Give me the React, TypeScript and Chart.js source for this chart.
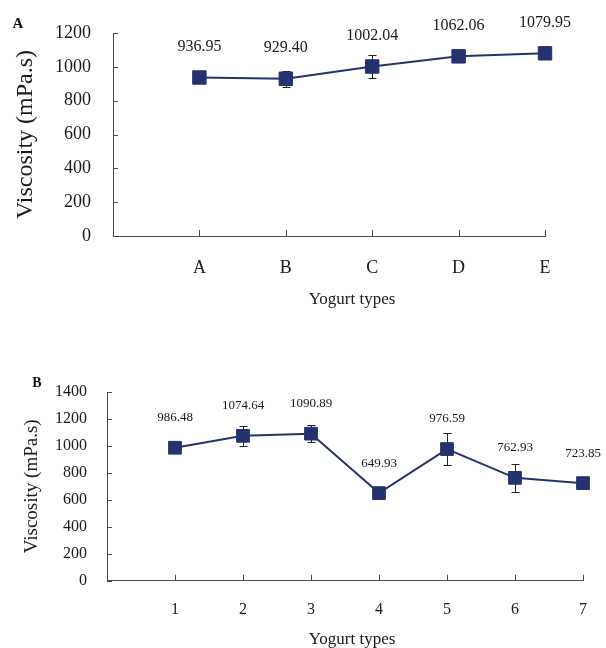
import React, { useEffect, useRef } from 'react';
import { Chart, registerables } from 'chart.js';

Chart.register(...registerables);

// ---- Data: panel A ----
const A_CATEGORIES = ['A', 'B', 'C', 'D', 'E'];
const A_VALUES = [936.95, 929.4, 1002.04, 1062.06, 1079.95];
const A_ERRORS = [12, 47, 68, 20, 20];
const A_Y_MAX = 1200;
const A_Y_STEP = 200;

// ---- Data: panel B ----
const B_CATEGORIES = ['1', '2', '3', '4', '5', '6', '7'];
const B_VALUES = [986.48, 1074.64, 1090.89, 649.93, 976.59, 762.93, 723.85];
const B_ERRORS = [20, 74, 62, 47, 119, 104, 20];
const B_Y_MAX = 1400;
const B_Y_STEP = 200;

const X_TITLE = 'Yogurt types';
const Y_TITLE = 'Viscosity (mPa.s)';

const FONT = "'Liberation Serif', 'Times New Roman', serif";
const NAVY = '#24326f';
const AXIS = '#4a4a4a';
const TEXT = '#1a1a1a';

const decorPlugin = {
  id: 'decor',
  beforeDatasetsDraw(chart: any, _args: any, opts: any) {
    const { ctx } = chart;
    const xs = chart.scales.x;
    const ys = chart.scales.y;
    ctx.save();
    ctx.strokeStyle = '#222';
    ctx.lineWidth = 1;
    opts.values.forEach((v: number, i: number) => {
      const e = opts.errors[i];
      const x = Math.round(xs.getPixelForValue(i + 1)) + 0.5;
      const yt = Math.round(ys.getPixelForValue(v + e)) + 0.5;
      const yb = Math.round(ys.getPixelForValue(v - e)) + 0.5;
      ctx.beginPath();
      ctx.moveTo(x, yt);
      ctx.lineTo(x, yb);
      ctx.moveTo(x - 4, yt);
      ctx.lineTo(x + 4, yt);
      ctx.moveTo(x - 4, yb);
      ctx.lineTo(x + 4, yb);
      ctx.stroke();
    });
    ctx.restore();
  },
  afterDraw(chart: any, _args: any, opts: any) {
    const { ctx, chartArea } = chart;
    const xs = chart.scales.x;
    const ys = chart.scales.y;
    ctx.save();
    // inner tick marks
    ctx.strokeStyle = AXIS;
    ctx.lineWidth = 1;
    ctx.beginPath();
    ys.ticks.forEach((t: any) => {
      const y = Math.round(ys.getPixelForValue(t.value)) + 0.5;
      ctx.moveTo(chartArea.left, y);
      ctx.lineTo(chartArea.left + opts.tickLen, y);
    });
    xs.ticks.forEach((t: any) => {
      if (t.value < 1) return;
      const x = Math.round(xs.getPixelForValue(t.value)) + 0.5;
      ctx.moveTo(x, chartArea.bottom);
      ctx.lineTo(x, chartArea.bottom - opts.tickLen - 1);
    });
    ctx.stroke();
    // value labels
    ctx.fillStyle = TEXT;
    ctx.textAlign = 'center';
    ctx.textBaseline = 'middle';
    ctx.font = `${opts.labelSize}px ${FONT}`;
    opts.values.forEach((v: number, i: number) => {
      const x = xs.getPixelForValue(i + 1);
      const y = ys.getPixelForValue(v) - opts.labelOffset;
      ctx.fillText(v.toFixed(2), x, y);
    });
    // x title
    ctx.font = `${opts.xTitleSize}px ${FONT}`;
    ctx.fillText(X_TITLE, opts.xTitleX, opts.xTitleY);
    // panel letter
    ctx.font = `bold ${opts.letterSize}px ${FONT}`;
    ctx.fillStyle = '#111';
    ctx.fillText(opts.letter, opts.letterX, opts.letterY);
    ctx.restore();
  },
};

function makeConfig(p: {
  categories: string[];
  values: number[];
  errors: number[];
  yMax: number;
  yStep: number;
  padTop: number;
  padRight: number;
  yWidth: number;
  xHeight: number;
  yTickSize: number;
  yTickPad: number;
  xTickSize: number;
  xTickPad: number;
  yTitleSize: number;
  yTitlePad: number;
  pointRadius: number;
  decor: any;
}): any {
  return {
    type: 'line',
    data: {
      datasets: [
        {
          data: p.values.map((v, i) => ({ x: i + 1, y: v })),
          borderColor: NAVY,
          backgroundColor: NAVY,
          borderWidth: 2,
          pointStyle: 'rect',
          pointRadius: p.pointRadius,
          pointBorderWidth: 1,
          pointBackgroundColor: NAVY,
          pointBorderColor: NAVY,
          tension: 0,
          clip: false,
        },
      ],
    },
    options: {
      responsive: false,
      animation: false,
      events: [],
      layout: { padding: { left: 0, top: p.padTop, right: p.padRight, bottom: 0 } },
      plugins: {
        legend: { display: false },
        tooltip: { enabled: false },
        decor: { values: p.values, errors: p.errors, ...p.decor },
      },
      scales: {
        x: {
          type: 'linear',
          min: 0,
          max: p.categories.length,
          afterFit: (s: any) => {
            s.height = p.xHeight;
          },
          grid: { display: true, drawOnChartArea: false, drawTicks: false },
          border: { display: true, color: AXIS, width: 1 },
          ticks: {
            stepSize: 1,
            padding: p.xTickPad,
            color: TEXT,
            font: { family: FONT, size: p.xTickSize },
            maxRotation: 0,
            autoSkip: false,
            callback: (v: number) => (v >= 1 && Number.isInteger(v) ? p.categories[v - 1] : ''),
          },
        },
        y: {
          min: 0,
          max: p.yMax,
          afterFit: (s: any) => {
            s.width = p.yWidth;
          },
          grid: { display: true, drawOnChartArea: false, drawTicks: false },
          border: { display: true, color: AXIS, width: 1 },
          ticks: {
            stepSize: p.yStep,
            padding: p.yTickPad,
            color: TEXT,
            font: { family: FONT, size: p.yTickSize },
            callback: (v: number) => String(v),
          },
          title: {
            display: true,
            text: Y_TITLE,
            color: TEXT,
            font: { family: FONT, size: p.yTitleSize },
            padding: { top: p.yTitlePad, bottom: 0 },
          },
        },
      },
    },
    plugins: [decorPlugin],
  };
}

export default function App() {
  const refA = useRef<HTMLCanvasElement>(null);
  const refB = useRef<HTMLCanvasElement>(null);

  useEffect(() => {
    const a = new Chart(
      refA.current as HTMLCanvasElement,
      makeConfig({
        categories: A_CATEGORIES,
        values: A_VALUES,
        errors: A_ERRORS,
        yMax: A_Y_MAX,
        yStep: A_Y_STEP,
        padTop: 33,
        padRight: 61,
        yWidth: 113,
        xHeight: 84,
        yTickSize: 18,
        yTickPad: 22,
        xTickSize: 18,
        xTickPad: 21,
        yTitleSize: 24,
        yTitlePad: 11,
        pointRadius: 9.5,
        decor: {
          tickLen: 5,
          labelSize: 16,
          labelOffset: 31,
          xTitleSize: 17,
          xTitleX: 352,
          xTitleY: 300,
          letter: 'A',
          letterSize: 15,
          letterX: 18,
          letterY: 24,
        },
      })
    );
    const b = new Chart(
      refB.current as HTMLCanvasElement,
      makeConfig({
        categories: B_CATEGORIES,
        values: B_VALUES,
        errors: B_ERRORS,
        yMax: B_Y_MAX,
        yStep: B_Y_STEP,
        padTop: 72,
        padRight: 11.5,
        yWidth: 107,
        xHeight: 67.3,
        yTickSize: 16,
        yTickPad: 20,
        xTickSize: 16,
        xTickPad: 19,
        yTitleSize: 19,
        yTitlePad: 21,
        pointRadius: 9,
        decor: {
          tickLen: 5,
          labelSize: 13,
          labelOffset: 30,
          xTitleSize: 17,
          xTitleX: 352,
          xTitleY: 320,
          letter: 'B',
          letterSize: 14,
          letterX: 37,
          letterY: 63,
        },
      })
    );
    return () => {
      a.destroy();
      b.destroy();
    };
  }, []);

  return (
    <div style={{ position: 'absolute', left: 0, top: 0, width: 606, height: 648, background: '#fff' }}>
      <canvas ref={refA} width={606} height={320} style={{ position: 'absolute', left: 0, top: 0 }} />
      <canvas ref={refB} width={606} height={328} style={{ position: 'absolute', left: 0, top: 320 }} />
    </div>
  );
}
